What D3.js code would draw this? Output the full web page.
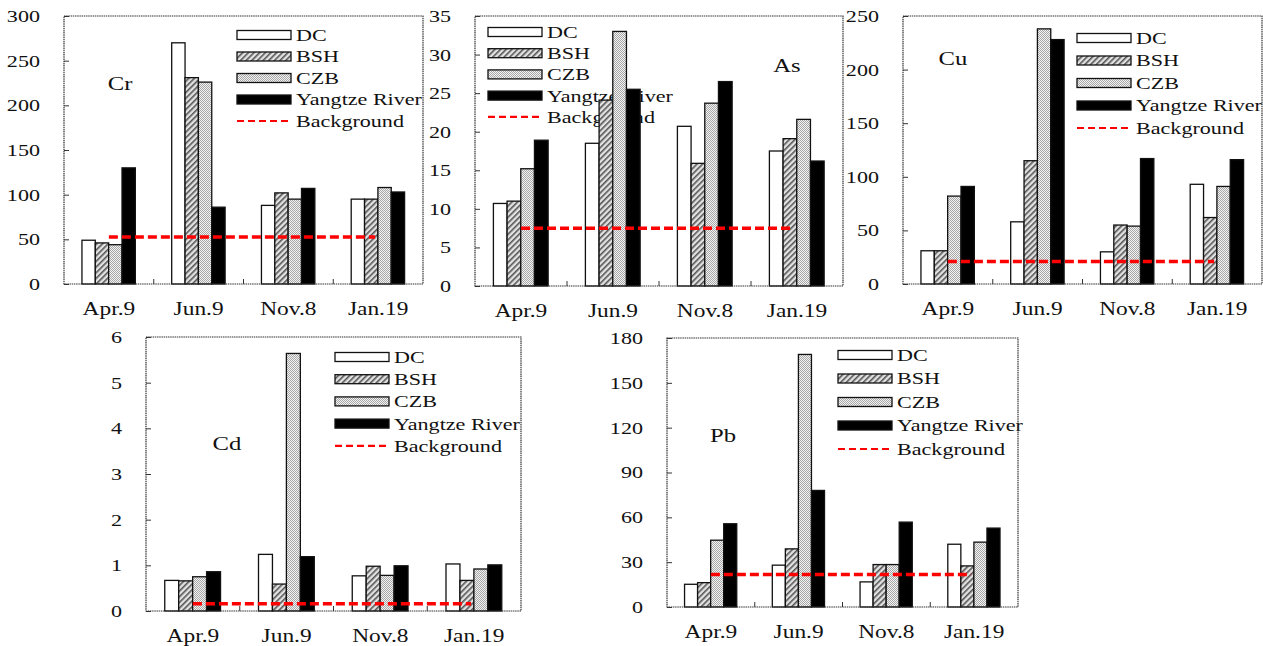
<!DOCTYPE html>
<html lang="en">
<head>
    <meta charset="UTF-8">
    <title>Heavy metals by sampling date</title>
    <script src="https://d3js.org/d3.v7.min.js"></script>
    <style>
        body {
            margin: 0;
            padding: 0;
            background: white;
        }
        svg {
            display: block;
        }
        text {
            font-family: 'Liberation Serif', 'Times New Roman', serif;
            font-size: 17px;
            fill: #111;
        }
        text.date {
            font-size: 18px;
        }
        text.elem {
            font-size: 19px;
        }
    </style>
</head>
<body>
    <svg id="chart" width="1263" height="646"></svg>

    <script>
        // data
        const dates = ["Apr.9", "Jun.9", "Nov.8", "Jan.19"];
        const sites = ["DC", "BSH", "CZB", "Yangtze River"];
        const backgroundLabel = "Background";

        // values per site, one entry per date
        const crValues = [[49, 270, 88, 95], [46, 231, 102, 95], [44, 226, 95, 108], [130, 86, 107, 103]];
        const asValues = [[10.7, 18.5, 20.7, 17.5], [11.0, 24.1, 15.9, 19.1], [15.2, 33.0, 23.7, 21.6], [18.9, 25.5, 26.5, 16.2]];
        const cuValues = [[31, 58, 30, 93], [31, 115, 55, 62], [82, 238, 54, 91], [91, 228, 117, 116]];
        const cdValues = [[0.67, 1.24, 0.77, 1.03], [0.66, 0.59, 0.98, 0.67], [0.75, 5.64, 0.78, 0.92], [0.86, 1.19, 0.99, 1.01]];
        const pbValues = [[15.2, 28, 16.8, 42], [16.3, 38.9, 28.4, 27.5], [44.7, 169, 28.4, 43.4], [55.7, 78, 56.8, 52.8]];

        const crBackground = 52.5;
        const asBackground = 7.5;
        const cuBackground = 21;
        const cdBackground = 0.16;
        const pbBackground = 21.7;

        const crTicks = [0, 50, 100, 150, 200, 250, 300];
        const asTicks = [0, 5, 10, 15, 20, 25, 30, 35];
        const cuTicks = [0, 50, 100, 150, 200, 250];
        const cdTicks = [0, 1, 2, 3, 4, 5, 6];
        const pbTicks = [0, 30, 60, 90, 120, 150, 180];

        // layout of the five panels
        const panels = [
            { name: "Cr", values: crValues, bg: crBackground, ticks: crTicks,
              box: [64, 16, 423, 284], label: [120, 83], legend: [237, 35, 21.5] },
            { name: "As", values: asValues, bg: asBackground, ticks: asTicks,
              box: [475, 16, 843, 286], label: [787, 65], legend: [488, 32, 21.2] },
            { name: "Cu", values: cuValues, bg: cuBackground, ticks: cuTicks,
              box: [903, 16, 1262, 284], label: [953, 58], legend: [1077, 38, 22.5] },
            { name: "Cd", values: cdValues, bg: cdBackground, ticks: cdTicks,
              box: [146, 337, 521, 611], label: [227, 443], legend: [335, 357, 22.2] },
            { name: "Pb", values: pbValues, bg: pbBackground, ticks: pbTicks,
              box: [667, 338, 1018, 607], label: [723, 435], legend: [838, 355, 23.5] }
        ];

        const svg = d3.select("#chart");
        const defs = svg.append("defs");

        // hatch for BSH
        const hatch = defs.append("pattern")
            .attr("id", "hatch")
            .attr("patternUnits", "userSpaceOnUse")
            .attr("width", 4).attr("height", 4)
            .attr("patternTransform", "rotate(45)");
        hatch.append("rect").attr("width", 4).attr("height", 4).attr("fill", "#e2e2e2");
        hatch.append("rect").attr("width", 1.6).attr("height", 4).attr("fill", "#555");

        // stipple for CZB
        const dots = defs.append("pattern")
            .attr("id", "dots")
            .attr("patternUnits", "userSpaceOnUse")
            .attr("width", 2).attr("height", 2);
        dots.append("rect").attr("width", 2).attr("height", 2).attr("fill", "#f2f2f2");
        dots.append("rect").attr("width", 1).attr("height", 1).attr("fill", "#a8a8a8");
        dots.append("rect").attr("x", 1).attr("y", 1).attr("width", 1).attr("height", 1).attr("fill", "#a8a8a8");

        const fills = ["white", "url(#hatch)", "url(#dots)", "black"];

        // the original figure is stretched sideways, so the text is too
        function stretchedText(g, x, y, str, anchor) {
            return g.append("text")
                .attr("transform", `translate(${x},${y}) scale(1.3,1)`)
                .attr("text-anchor", anchor || "start")
                .attr("dy", "0.35em")
                .text(str);
        }

        panels.forEach(p => {
            const [x0, y0, x1, y1] = p.box;
            const g = svg.append("g");

            const x = d3.scaleBand().domain(dates).range([x0, x1]);
            const bw = x.bandwidth();
            const xs = d3.scaleBand().domain(sites).range([bw * 0.2, bw * 0.795]);
            const y = d3.scaleLinear()
                .domain([0, p.ticks[p.ticks.length - 1]])
                .range([y1, y0]);

            // legend sits under the bars
            const [lx, ly, lstep] = p.legend;
            sites.forEach((s, i) => {
                const cy = ly + i * lstep;
                g.append("rect")
                    .attr("x", lx).attr("y", cy - 4.5)
                    .attr("width", 54).attr("height", 9)
                    .attr("fill", fills[i])
                    .attr("stroke", "#111").attr("stroke-width", 1.3);
                stretchedText(g, lx + 59, cy, s);
            });
            const by = ly + 4 * lstep;
            g.append("line")
                .attr("x1", lx).attr("x2", lx + 54)
                .attr("y1", by).attr("y2", by)
                .attr("stroke", "#f00").attr("stroke-width", 2.2)
                .attr("stroke-dasharray", "7,4");
            stretchedText(g, lx + 59, by, backgroundLabel);

            // element label
            stretchedText(g, p.label[0], p.label[1], p.name, "middle").attr("class", "elem");

            // bars
            p.values.forEach((series, si) => {
                g.selectAll(null)
                    .data(series)
                    .join("rect")
                    .attr("x", (d, i) => x(dates[i]) + xs(sites[si]))
                    .attr("y", d => y(d))
                    .attr("width", xs.bandwidth())
                    .attr("height", d => y(0) - y(d))
                    .attr("fill", fills[si])
                    .attr("stroke", "#111")
                    .attr("stroke-width", 1.3);
            });

            // background value line, first to last date
            g.append("line")
                .attr("x1", x(dates[0]) + bw / 2)
                .attr("x2", x(dates[dates.length - 1]) + bw / 2 - 3)
                .attr("y1", y(p.bg)).attr("y2", y(p.bg))
                .attr("stroke", "#f00").attr("stroke-width", 3.5)
                .attr("stroke-dasharray", "9,4");

            // frame
            g.append("rect")
                .attr("x", x0).attr("y", y0)
                .attr("width", x1 - x0).attr("height", y1 - y0)
                .attr("fill", "none")
                .attr("stroke", "#333").attr("stroke-width", 1.2)
                .attr("stroke-dasharray", "1.5,0.7");

            // y ticks point inward
            const yAxis = g.append("g")
                .attr("transform", `translate(${x0},0)`)
                .call(d3.axisRight(y).tickValues(p.ticks).tickSize(5).tickFormat(""));
            yAxis.select(".domain").remove();
            yAxis.selectAll("line").attr("stroke", "#333");
            p.ticks.forEach(t => stretchedText(g, x0 - 24, y(t), String(t), "end"));

            // small ticks between dates
            dates.slice(1).forEach(d => {
                g.append("line")
                    .attr("x1", x(d)).attr("x2", x(d))
                    .attr("y1", y1).attr("y2", y1 - 5)
                    .attr("stroke", "#333");
            });

            dates.forEach(d => stretchedText(g, x(d) + bw / 2, y1 + 25, d, "middle").attr("class", "date"));
        });
    </script>
</body>
</html>
